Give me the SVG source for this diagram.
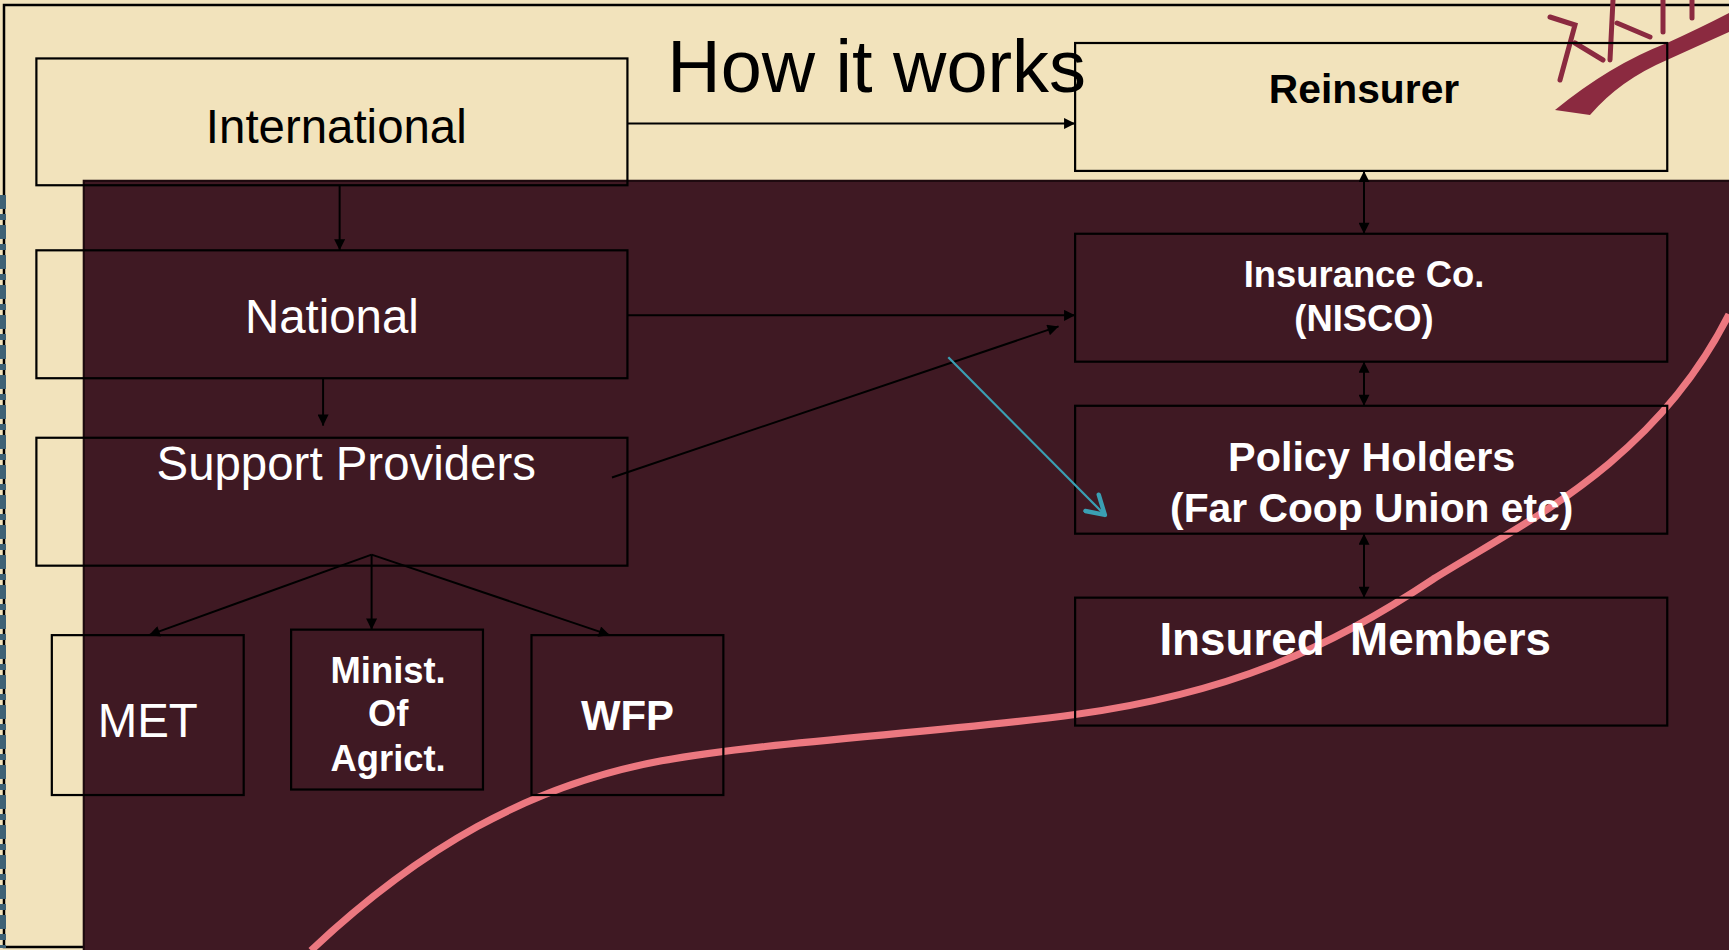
<svg xmlns="http://www.w3.org/2000/svg" width="1729" height="950" viewBox="0 0 1729 950">
<defs>
<style>
.box{fill:none;stroke:#000;stroke-width:2}
.con{fill:none;stroke:#000;stroke-width:1.8}
.t{font-family:"Liberation Sans",Arial,sans-serif;text-anchor:middle}
.w{fill:#fff}
.k{fill:#000}
.b{font-weight:bold}
</style>
<marker id="ah" viewBox="0 0 10 10" refX="10" refY="5" markerWidth="14" markerHeight="10" orient="auto-start-reverse" markerUnits="userSpaceOnUse">
<path d="M0,0 L10,5 L0,10 z" fill="#000"/>
</marker>
<marker id="tah" viewBox="0 0 24 24" refX="21" refY="12" markerWidth="24" markerHeight="24" orient="auto" markerUnits="userSpaceOnUse">
<path d="M4,3 L21,12 L6,22" fill="none" stroke="#3a9fb3" stroke-width="4" stroke-linecap="round" stroke-linejoin="round"/>
</marker>
</defs>
<rect x="0" y="0" width="1729" height="950" fill="#f2e3bc"/>
<path d="M1729,5 L4,5 L4,947 L1729,947" fill="none" stroke="#000" stroke-width="2.5"/>
<line x1="3" y1="195" x2="3" y2="948" stroke="#3e6276" stroke-width="6" stroke-dasharray="14,5,6,5"/>
<g id="decor">
<path d="M1555,110 Q1610,65 1667,43 Q1700,28 1729,13 L1729,32 Q1700,45 1667,60 Q1620,80 1590,115 Z" fill="#8b2a40"/>
<g fill="none" stroke="#8b2a40" stroke-linecap="round" stroke-width="5">
<path d="M1550,17 L1575,25 L1560,80"/>
<path d="M1575,43 L1603,60"/>
<path d="M1613,0 L1610,60"/>
<path d="M1617,23 L1650,37"/>
<path d="M1663,0 L1663,32"/>
<path d="M1692,0 L1692,18"/>
</g>
</g>
<g transform="scale(1.10268)">
<rect x="75" y="163" width="1500" height="705" fill="#1e0a0f"/>
<rect x="77" y="165" width="1500" height="705" fill="#3f1923"/>
<path id="curve" d="M282,862 C380,770 480,712 600,690 C700,672 850,665 975,648 C1120,628 1210,585 1300,525 C1380,475 1500,420 1568,285" fill="none" stroke="#ec7880" stroke-width="6.5"/>
<text class="t k" x="795" y="83" font-size="67">How it works</text>
<g id="international"><rect class="box" x="33" y="53" width="536" height="115"/><text class="t k" x="305" y="130" font-size="43">International</text></g>
<g id="reinsurer"><rect class="box" x="975" y="39" width="537" height="116"/><text class="t k b" x="1237" y="93" font-size="37">Reinsurer</text></g>
<g id="national"><rect class="box" x="33" y="227" width="536" height="116"/><text class="t w" x="301" y="302" font-size="43">National</text></g>
<g id="insurance"><rect class="box" x="975" y="212" width="537" height="116"/><text class="t w b" x="1237" y="260" font-size="33">Insurance Co.</text><text class="t w b" x="1237" y="300" font-size="33">(NISCO)</text></g>
<g id="support"><rect class="box" x="33" y="397" width="536" height="116"/><text class="t w" x="314" y="435" font-size="43">Support Providers</text></g>
<g id="policy"><rect class="box" x="975" y="368" width="537" height="116"/><text class="t w b" x="1244" y="427" font-size="37.5">Policy Holders</text><text class="t w b" x="1244" y="473" font-size="37">(Far Coop Union etc)</text></g>
<g id="insured"><rect class="box" x="975" y="542" width="537" height="116"/><text class="t w b" x="1229" y="594" font-size="41.5" style="white-space:pre">Insured  Members</text></g>
<g id="met"><rect class="box" x="47" y="576" width="174" height="145"/><text class="t w" x="134" y="668" font-size="43">MET</text></g>
<g id="minist"><rect class="box" x="264" y="571" width="174" height="145"/><text class="t w b" x="352" y="619" font-size="33">Minist.</text><text class="t w b" x="352" y="658" font-size="33">Of</text><text class="t w b" x="352" y="699" font-size="33">Agrict.</text></g>
<g id="wfp"><rect class="box" x="482" y="576" width="174" height="145"/><text class="t w b" x="569" y="662" font-size="38">WFP</text></g>
<g id="connectors">
<line class="con" x1="569" y1="112" x2="975" y2="112" marker-end="url(#ah)"/>
<line class="con" x1="308" y1="168" x2="308" y2="227" marker-end="url(#ah)"/>
<line class="con" x1="569" y1="286" x2="975" y2="286" marker-end="url(#ah)"/>
<line class="con" x1="293" y1="343" x2="293" y2="386" marker-end="url(#ah)"/>
<line class="con" x1="555" y1="433" x2="960" y2="296" marker-end="url(#ah)"/>
<line class="con" x1="1237" y1="155" x2="1237" y2="212" marker-start="url(#ah)" marker-end="url(#ah)"/>
<line class="con" x1="1237" y1="328" x2="1237" y2="368" marker-start="url(#ah)" marker-end="url(#ah)"/>
<line class="con" x1="1237" y1="484" x2="1237" y2="542" marker-start="url(#ah)" marker-end="url(#ah)"/>
<line class="con" x1="337" y1="503" x2="135" y2="576" marker-end="url(#ah)"/>
<line class="con" x1="337" y1="503" x2="337" y2="571" marker-end="url(#ah)"/>
<line class="con" x1="337" y1="503" x2="553" y2="576" marker-end="url(#ah)"/>
<line x1="860" y1="324" x2="1002" y2="467" stroke="#3a9fb3" stroke-width="2" marker-end="url(#tah)"/>
</g>
</g>
</svg>
